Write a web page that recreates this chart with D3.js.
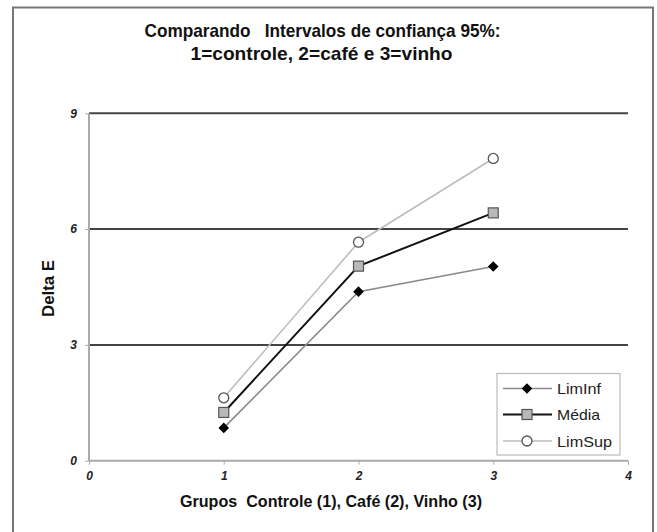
<!DOCTYPE html>
<html><head><meta charset="utf-8">
<script src="https://cdn.jsdelivr.net/npm/d3@7"></script>
<style>body{margin:0;background:#fff}svg{display:block}text{font-family:"Liberation Sans",Arial,sans-serif;white-space:pre}</style>
</head><body><svg id="c" width="657" height="532"></svg>
<script>
const groups = [1, 2, 3];
const limInf = [0.85, 4.38, 5.03];
const media = [1.25, 5.04, 6.42];
const limSup = [1.63, 5.66, 7.83];
const xTicks = [0, 1, 2, 3, 4];
const yTicks = [0, 3, 6, 9];
const titleLines = ["Comparando   Intervalos de confiança 95%:", "1=controle, 2=café e 3=vinho"];
const xTitle = "Grupos  Controle (1), Café (2), Vinho (3)";
const yTitle = "Delta E";
const seriesNames = ["LimInf", "Média", "LimSup"];

const svg = d3.select("#c");
svg.append("rect").attr("x",13).attr("y",7.5).attr("width",640).attr("height",540)
  .attr("fill","#fff").attr("stroke","#777").attr("stroke-width",2);

const x = d3.scaleLinear().domain([0,4]).range([89,628]);
const y = d3.scaleLinear().domain([0,9]).range([460.7,113.3]);

svg.append("g").selectAll("line").data(yTicks.filter(d=>d>0)).join("line")
  .attr("x1",x(0)).attr("x2",x(4)).attr("y1",d=>y(d)).attr("y2",d=>y(d))
  .attr("stroke","#444").attr("stroke-width",2);

const yAxis = svg.append("g").attr("transform",`translate(${x(0)},0)`)
  .call(d3.axisLeft(y).tickValues(yTicks).tickFormat(d3.format("d")).tickSize(4).tickPadding(8));
const xAxis = svg.append("g").attr("transform",`translate(0,${y(0)})`)
  .call(d3.axisBottom(x).tickValues(xTicks).tickFormat(d3.format("d")).tickSize(4).tickPadding(7));
[yAxis,xAxis].forEach(a=>{
  a.select(".domain").attr("stroke","#aaa").attr("stroke-width",2);
  a.selectAll(".tick line").attr("stroke","#aaa").attr("stroke-width",1);
  a.selectAll(".tick text").attr("font-family","Liberation Sans, Arial, sans-serif")
    .attr("font-size",12).attr("font-weight","bold").attr("font-style","italic").attr("fill","#222");
});
xAxis.select(".domain").attr("d",`M${x(0)},0H${x(4)}`);
yAxis.select(".domain").attr("d",`M0,${y(0)}V${y(9)}`);

const data = [
  {name:seriesNames[0], vals:limInf, color:"#8a8a8a", w:1.6, marker:"diamond", tl:44},
  {name:seriesNames[1], vals:media, color:"#111", w:2, marker:"square", tl:43},
  {name:seriesNames[2], vals:limSup, color:"#bdbdbd", w:1.6, marker:"circle", tl:55}
];
const line = d3.line().x((d,i)=>x(groups[i])).y(d=>y(d));

function drawMarker(g, type, cx, cy){
  if(type==="diamond"){
    g.append("path").attr("d",d3.symbol(d3.symbolSquare,56)())
      .attr("transform",`translate(${cx},${cy}) rotate(45)`).attr("fill","#000");
  } else if(type==="square"){
    g.append("rect").attr("x",cx-5).attr("y",cy-5).attr("width",10).attr("height",10)
      .attr("fill","#b8b8b8").attr("stroke","#555").attr("stroke-width",1.2);
  } else {
    g.append("circle").attr("cx",cx).attr("cy",cy).attr("r",5)
      .attr("fill","#fff").attr("stroke","#555").attr("stroke-width",1.3);
  }
}

data.forEach(s=>{
  svg.append("path").datum(s.vals).attr("d",line).attr("fill","none")
    .attr("stroke",s.color).attr("stroke-width",s.w);
});
data.forEach(s=>{
  const g = svg.append("g");
  s.vals.forEach((v,i)=>drawMarker(g,s.marker,x(groups[i]),y(v)));
});

function fitText(sel, len){ sel.attr("textLength",len).attr("lengthAdjust","spacingAndGlyphs"); return sel; }

const lg = svg.append("g");
lg.append("rect").attr("x",497).attr("y",373.5).attr("width",123).attr("height",81.5)
  .attr("fill","#fff").attr("stroke","#bbb").attr("stroke-width",1.2);
const ly = [388.5, 414.5, 441];
data.forEach((s,i)=>{
  lg.append("line").attr("x1",503).attr("x2",552).attr("y1",ly[i]).attr("y2",ly[i])
    .attr("stroke",s.color).attr("stroke-width",s.w);
  drawMarker(lg,s.marker,527,ly[i]);
  fitText(lg.append("text").attr("x",557).attr("y",ly[i]+5.5).attr("font-size",15).attr("fill","#222").text(s.name), s.tl);
});

fitText(svg.append("text").attr("x",322.5).attr("y",37).attr("text-anchor","middle")
  .attr("font-size",19).attr("font-weight","bold").attr("fill","#111").text(titleLines[0]),356);
fitText(svg.append("text").attr("x",321.5).attr("y",60).attr("text-anchor","middle")
  .attr("font-size",19).attr("font-weight","bold").attr("fill","#111").text(titleLines[1]),262);
fitText(svg.append("text").attr("x",331).attr("y",507).attr("text-anchor","middle")
  .attr("font-size",17).attr("font-weight","bold").attr("fill","#111").text(xTitle),302);
fitText(svg.append("text").attr("transform","translate(54,288.5) rotate(-90)").attr("text-anchor","middle")
  .attr("font-size",17).attr("font-weight","bold").attr("fill","#111").text(yTitle),57);
</script></body></html>
